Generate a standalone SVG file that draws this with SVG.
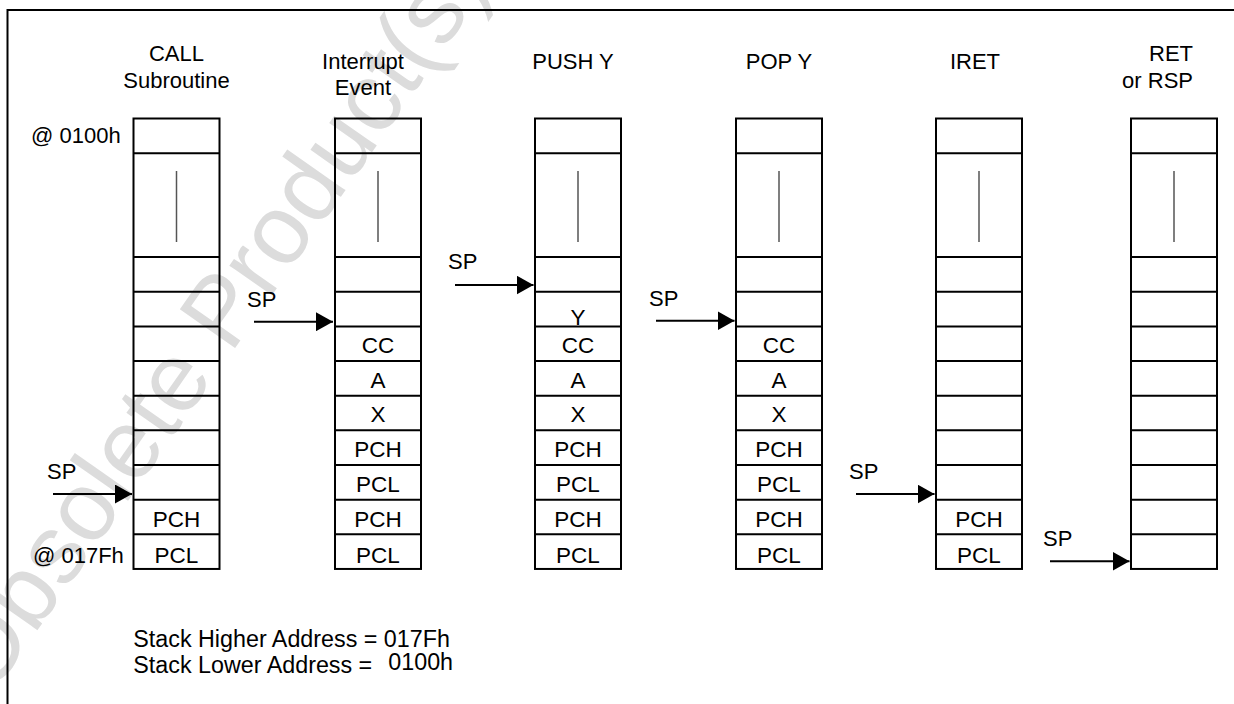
<svg xmlns="http://www.w3.org/2000/svg" xmlns:xlink="http://www.w3.org/1999/xlink" width="1234" height="704" viewBox="0 0 1234 704">
<style>
text{font-family:"Liberation Sans",Arial,Helvetica,sans-serif;fill:#000;}
.lbl{font-size:22px;}
.cell{font-size:22.5px;text-anchor:middle;}
.note{font-size:23.3px;}
.box{fill:none;stroke:#000;stroke-width:2;}
.ptr{stroke:#000;stroke-width:2;fill:none;}
.wm{font-size:98px;fill:#dcdcdc;}
</style>
<defs>
<marker id="ah" markerUnits="userSpaceOnUse" markerWidth="17" markerHeight="19" refX="17" refY="9.5" orient="auto">
<path d="M0,0 L17,9.5 L0,19 z" fill="#000"/>
</marker>
<g id="stack">
<rect class="box" x="0" y="118.5" width="86" height="450.45"/>
<path class="box" d="M0,153.15H86M0,257.1H86M0,291.75H86M0,326.4H86M0,361.05H86M0,395.7H86M0,430.35H86M0,465H86M0,499.65H86M0,534.3H86"/>
<line x1="43" y1="171" x2="43" y2="242" stroke="#555" stroke-width="1.5"/>
</g>
</defs>
<rect width="1234" height="704" fill="#fff"/>
<text class="wm" transform="translate(-10,698) rotate(-55)">Obsolete Product(s) -</text>
<path d="M7.5,704V10H1234" fill="none" stroke="#000" stroke-width="2"/>

<g id="col-call">
<use xlink:href="#stack" x="133.5"/>
<text class="lbl" x="176.5" y="61" text-anchor="middle">CALL</text>
<text class="lbl" x="176.5" y="88" text-anchor="middle">Subroutine</text>
<text class="lbl" x="31" y="143.3">@ 0100h</text>
<text class="lbl" x="33" y="562.5">@ 017Fh</text>
<text class="cell" x="176.5" y="526.5">PCH</text>
<text class="cell" x="176.5" y="562.5">PCL</text>
</g>

<g id="col-interrupt">
<use xlink:href="#stack" x="335"/>
<text class="lbl" x="363" y="69" text-anchor="middle">Interrupt</text>
<text class="lbl" x="363" y="95" text-anchor="middle">Event</text>
<text class="cell" x="378" y="353">CC</text>
<text class="cell" x="378" y="387.5">A</text>
<text class="cell" x="378" y="422">X</text>
<text class="cell" x="378" y="457">PCH</text>
<text class="cell" x="378" y="491.5">PCL</text>
<text class="cell" x="378" y="526.5">PCH</text>
<text class="cell" x="378" y="563">PCL</text>
</g>

<g id="col-push">
<use xlink:href="#stack" x="535"/>
<text class="lbl" x="573" y="69" text-anchor="middle">PUSH Y</text>
<text class="cell" x="578" y="324.5">Y</text>
<text class="cell" x="578" y="353">CC</text>
<text class="cell" x="578" y="387.5">A</text>
<text class="cell" x="578" y="422">X</text>
<text class="cell" x="578" y="457">PCH</text>
<text class="cell" x="578" y="491.5">PCL</text>
<text class="cell" x="578" y="526.5">PCH</text>
<text class="cell" x="578" y="563">PCL</text>
</g>

<g id="col-pop">
<use xlink:href="#stack" x="736"/>
<text class="lbl" x="779" y="69" text-anchor="middle">POP Y</text>
<text class="cell" x="779" y="353">CC</text>
<text class="cell" x="779" y="387.5">A</text>
<text class="cell" x="779" y="422">X</text>
<text class="cell" x="779" y="457">PCH</text>
<text class="cell" x="779" y="491.5">PCL</text>
<text class="cell" x="779" y="526.5">PCH</text>
<text class="cell" x="779" y="563">PCL</text>
</g>

<g id="col-iret">
<use xlink:href="#stack" x="936"/>
<text class="lbl" x="975" y="69" text-anchor="middle">IRET</text>
<text class="cell" x="979" y="526.5">PCH</text>
<text class="cell" x="979" y="562.5">PCL</text>
</g>

<g id="col-ret">
<use xlink:href="#stack" x="1131"/>
<text class="lbl" x="1193" y="61" text-anchor="end">RET</text>
<text class="lbl" x="1193" y="88" text-anchor="end">or RSP</text>
</g>

<g id="connectors">
<line class="ptr" x1="53" y1="494" x2="132" y2="494" marker-end="url(#ah)"/>
<line class="ptr" x1="254" y1="321.7" x2="333" y2="321.7" marker-end="url(#ah)"/>
<line class="ptr" x1="455" y1="285" x2="533.5" y2="285" marker-end="url(#ah)"/>
<line class="ptr" x1="656" y1="320.7" x2="734.5" y2="320.7" marker-end="url(#ah)"/>
<line class="ptr" x1="856" y1="494" x2="934.5" y2="494" marker-end="url(#ah)"/>
<line class="ptr" x1="1050" y1="561.3" x2="1129.5" y2="561.3" marker-end="url(#ah)"/>
<text class="lbl" x="47" y="479">SP</text>
<text class="lbl" x="247" y="306.7">SP</text>
<text class="lbl" x="448" y="269">SP</text>
<text class="lbl" x="649" y="306">SP</text>
<text class="lbl" x="849" y="479">SP</text>
<text class="lbl" x="1043" y="545.7">SP</text>
</g>

<g id="legend">
<text class="note" x="133.3" y="646.7">Stack Higher Address = 017Fh</text>
<text class="note" x="133.3" y="672.7">Stack Lower Address =</text>
<text class="note" x="388.3" y="670">0100h</text>
</g>
</svg>
